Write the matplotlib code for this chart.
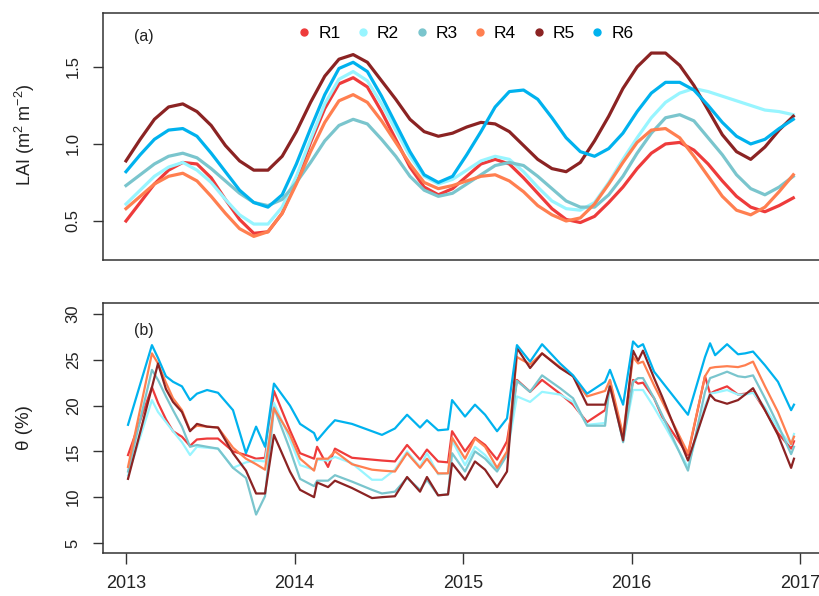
import numpy as np
import matplotlib
matplotlib.use("Agg")
import matplotlib.pyplot as plt
from matplotlib.lines import Line2D

plt.rcParams['font.family'] = ['Liberation Sans', 'DejaVu Sans']
plt.rcParams['mathtext.fontset'] = 'custom'
plt.rcParams['mathtext.rm'] = 'Liberation Sans'
plt.rcParams['mathtext.it'] = 'Liberation Sans:italic'
plt.rcParams['mathtext.default'] = 'regular'

names = ['R1', 'R2', 'R3', 'R4', 'R5', 'R6']
colors = ['#EE3B3B', '#98F5FF', '#7AC5CD', '#FF7F50', '#8B2323', '#00B2EE']

# LAI, roughly monthly readings of the smoothed curves
lai_t = np.linspace(2013.0, 2016.96, 48)
lai_r1 = [0.50, 0.62, 0.74, 0.83, 0.88, 0.87, 0.78, 0.64, 0.51, 0.42,
          0.43, 0.55, 0.76, 1.01, 1.23, 1.39, 1.43, 1.37, 1.21, 1.03,
          0.85, 0.72, 0.67, 0.71, 0.79, 0.87, 0.90, 0.87, 0.78, 0.68,
          0.58, 0.51, 0.49, 0.53, 0.62, 0.72, 0.84, 0.94, 1.00, 1.01,
          0.96, 0.87, 0.76, 0.66, 0.59, 0.56, 0.60, 0.65]
lai_r2 = [0.61, 0.70, 0.79, 0.85, 0.88, 0.83, 0.75, 0.64, 0.54, 0.48,
          0.48, 0.59, 0.79, 1.03, 1.26, 1.42, 1.47, 1.41, 1.26, 1.09,
          0.92, 0.79, 0.74, 0.77, 0.83, 0.89, 0.92, 0.90, 0.82, 0.72,
          0.63, 0.58, 0.57, 0.62, 0.75, 0.90, 1.04, 1.17, 1.27, 1.33,
          1.36, 1.34, 1.31, 1.28, 1.25, 1.22, 1.21, 1.19]
lai_r3 = [0.73, 0.80, 0.87, 0.92, 0.94, 0.91, 0.84, 0.76, 0.68, 0.62,
          0.60, 0.64, 0.75, 0.88, 1.02, 1.12, 1.16, 1.13, 1.03, 0.92,
          0.79, 0.70, 0.66, 0.68, 0.74, 0.80, 0.86, 0.88, 0.86, 0.79,
          0.71, 0.63, 0.59, 0.59, 0.67, 0.79, 0.94, 1.07, 1.17, 1.19,
          1.15, 1.04, 0.93, 0.80, 0.71, 0.67, 0.72, 0.79]
lai_r4 = [0.58, 0.66, 0.74, 0.79, 0.81, 0.76, 0.66, 0.55, 0.45, 0.40,
          0.43, 0.55, 0.74, 0.95, 1.14, 1.28, 1.32, 1.27, 1.15, 1.01,
          0.87, 0.75, 0.71, 0.73, 0.76, 0.79, 0.80, 0.76, 0.69, 0.60,
          0.54, 0.50, 0.52, 0.61, 0.74, 0.88, 1.01, 1.09, 1.10, 1.04,
          0.92, 0.79, 0.66, 0.57, 0.54, 0.59, 0.69, 0.80]
lai_r5 = [0.89, 1.03, 1.16, 1.24, 1.26, 1.21, 1.12, 0.99, 0.89, 0.83,
          0.83, 0.92, 1.08, 1.27, 1.44, 1.55, 1.58, 1.53, 1.41, 1.29,
          1.16, 1.08, 1.05, 1.07, 1.11, 1.14, 1.13, 1.08, 0.99, 0.90,
          0.84, 0.82, 0.88, 1.02, 1.18, 1.36, 1.50, 1.59, 1.59, 1.51,
          1.38, 1.22, 1.06, 0.95, 0.90, 0.98, 1.09, 1.18]
lai_r6 = [0.82, 0.93, 1.03, 1.09, 1.10, 1.05, 0.94, 0.82, 0.70, 0.62,
          0.59, 0.67, 0.87, 1.10, 1.32, 1.49, 1.53, 1.47, 1.31, 1.13,
          0.95, 0.80, 0.75, 0.79, 0.93, 1.08, 1.24, 1.34, 1.35, 1.29,
          1.17, 1.04, 0.95, 0.92, 0.97, 1.07, 1.21, 1.33, 1.40, 1.40,
          1.35, 1.25, 1.14, 1.05, 1.00, 1.03, 1.10, 1.16]

# soil water content (%), sampling dates as decimal years
theta_t = [2013.012, 2013.154, 2013.190, 2013.237, 2013.279, 2013.332, 2013.380, 2013.421, 2013.481, 2013.546,
           2013.635, 2013.712, 2013.772, 2013.825, 2013.878, 2013.973, 2014.033, 2014.116, 2014.134, 2014.199,
           2014.240, 2014.341, 2014.460, 2014.519, 2014.596, 2014.668, 2014.745, 2014.786, 2014.852, 2014.911,
           2014.935, 2015.012, 2015.071, 2015.131, 2015.202, 2015.261, 2015.320, 2015.398, 2015.469, 2015.576,
           2015.653, 2015.736, 2015.843, 2015.872, 2015.950, 2016.009, 2016.039, 2016.068, 2016.134, 2016.181,
           2016.335, 2016.436, 2016.466, 2016.496, 2016.567, 2016.632, 2016.674, 2016.721, 2016.792, 2016.869,
           2016.947, 2016.964]
theta_r1 = [14.6, 22.0, 20.3, 18.5, 17.2, 16.6, 15.6, 16.3, 16.4, 16.4,
            15.0, 14.6, 14.2, 14.3, 21.6, 17.3, 14.8, 14.2, 15.5, 13.3,
            15.3, 14.3, 14.1, 14.0, 13.9, 15.7, 14.1, 15.2, 13.9, 13.8,
            17.2, 15.0, 16.5, 15.7, 14.1, 16.1, 22.8, 21.5, 22.8, 21.3,
            20.1, 18.2, 19.5, 22.2, 16.4, 22.8, 22.4, 22.5, 20.8, 18.8,
            14.6, 23.2, 21.3, 21.6, 22.1, 21.2, 21.3, 21.5, 19.5, 17.0,
            15.3, 16.1]
theta_r2 = [12.4, 20.6, 19.3, 18.2, 17.2, 16.0, 14.6, 15.5, 15.4, 15.3,
            13.2, 13.8, 14.0, 13.9, 20.3, 16.3, 13.5, 13.0, 14.1, 14.0,
            14.4, 13.7, 11.9, 11.9, 13.0, 15.0, 13.3, 14.8, 12.5, 12.6,
            16.2, 13.5, 15.5, 14.6, 13.0, 14.6, 21.0, 20.4, 21.5, 21.2,
            20.4, 17.9, 18.1, 22.2, 16.1, 21.7, 21.7, 21.7, 19.8, 18.3,
            13.3, 20.0, 21.3, 21.4, 21.7, 21.2, 21.2, 21.4, 19.8, 17.5,
            15.7, 16.9]
theta_r3 = [12.8, 23.9, 22.8, 21.0, 19.5, 17.7, 15.5, 15.7, 15.5, 15.3,
            13.2, 12.1, 8.1, 10.1, 19.8, 15.2, 12.0, 11.2, 11.8, 11.8,
            12.4, 11.7, 10.8, 10.4, 10.6, 12.1, 10.8, 11.9, 10.2, 10.3,
            14.8, 12.8, 15.0, 14.2, 12.8, 14.6, 22.7, 21.5, 23.3, 21.9,
            20.8, 17.8, 17.8, 22.8, 16.0, 22.6, 23.0, 23.0, 20.8, 19.0,
            12.9, 21.5, 23.0, 23.2, 23.7, 23.2, 23.1, 23.3, 20.8, 17.9,
            14.7, 15.5]
theta_r4 = [13.3, 25.7, 24.6, 22.5, 20.8, 19.5, 17.3, 17.8, 17.7, 17.6,
            15.4, 14.2, 13.6, 13.0, 19.7, 16.8, 14.2, 12.9, 14.2, 14.2,
            15.0, 13.6, 13.0, 12.9, 12.8, 14.8, 13.2, 14.2, 12.6, 12.6,
            16.5, 14.2, 16.4, 15.5, 13.2, 15.0, 25.3, 24.5, 25.7, 24.2,
            23.2, 21.0, 21.6, 22.8, 16.8, 25.3, 24.6, 24.8, 22.2, 20.5,
            14.8, 23.2, 24.1, 24.2, 24.3, 24.2, 24.4, 24.8, 22.1, 19.3,
            15.8, 16.6]
theta_r5 = [12.0, 22.0, 24.6, 21.8, 20.4, 19.3, 17.2, 18.0, 17.7, 17.6,
            14.8, 12.9, 10.4, 10.4, 16.8, 12.8, 10.8, 10.0, 11.6, 11.1,
            11.8, 11.0, 9.9, 10.0, 10.1, 12.2, 10.6, 12.2, 10.2, 10.3,
            13.7, 11.9, 13.9, 13.0, 11.1, 12.8, 26.3, 24.1, 25.7, 24.1,
            23.2, 20.1, 20.1, 22.1, 16.2, 26.0, 24.9, 26.0, 23.0, 21.0,
            14.0, 19.6, 21.2, 20.6, 20.2, 20.6, 21.2, 21.9, 19.5, 16.8,
            13.2, 14.2]
theta_r6 = [17.9, 26.6, 25.2, 23.2, 22.6, 22.1, 20.6, 21.3, 21.7, 21.4,
            19.5, 14.8, 17.7, 15.5, 22.4, 20.0, 18.0, 17.0, 16.2, 17.6,
            18.4, 18.0, 17.2, 16.8, 17.5, 19.0, 17.6, 18.4, 17.3, 17.4,
            20.6, 18.8, 20.1, 19.0, 17.2, 18.6, 26.6, 24.8, 26.7, 24.6,
            23.3, 21.3, 22.6, 23.9, 20.1, 27.0, 26.4, 26.7, 23.7, 22.6,
            19.0, 25.3, 26.8, 25.5, 26.7, 25.6, 25.7, 25.9, 24.4, 22.6,
            19.5, 20.1]

lai_series = [lai_r1, lai_r2, lai_r3, lai_r4, lai_r5, lai_r6]
theta_series = [theta_r1, theta_r2, theta_r3, theta_r4, theta_r5, theta_r6]
year_ticks = [2013, 2014, 2015, 2016, 2017]

fig = plt.figure(figsize=(8.2, 5.96), dpi=100)
ax1 = fig.add_axes([0.1256, 0.5638, 0.8739, 0.4144])
ax2 = fig.add_axes([0.1256, 0.0721, 0.8739, 0.4195])

edge = '#333333'
for ax in (ax1, ax2):
    ax.set_xlim(2012.8635, 2017.116)
    for s in ax.spines.values():
        s.set_color(edge)
        s.set_linewidth(1.1)
    ax.tick_params(axis='y', direction='out', length=7, width=1, color=edge,
                   labelsize=12, labelcolor='#222222', pad=9, labelrotation=90)

# (a) LAI
for vals, c in zip(lai_series, colors):
    ax1.plot(lai_t, vals, color=c, lw=2.3, solid_joinstyle='round')
ax1.set_ylim(0.247, 1.85)
ax1.set_yticks([0.5, 1.0, 1.5])
ax1.set_yticklabels(['0.5', '1.0', '1.5'], va='center')
ax1.set_xticks([])
ax1.text(0.043, 0.903, '(a)', transform=ax1.transAxes, fontsize=11.5,
         ha='left', va='center', color='#222222')

handles = [Line2D([], [], ls='none', marker='o', ms=5, color=c) for c in colors]
ax1.legend(handles, names, ncol=6, loc='upper center', bbox_to_anchor=(0.507, 1.01),
           frameon=False, fontsize=12.5, handlelength=0.6, handletextpad=0.5,
           columnspacing=1.0)

# (b) theta
for vals, c in zip(theta_series, colors):
    ax2.plot(theta_t, vals, color=c, lw=1.6)
ax2.set_ylim(3.9, 31.2)
ax2.set_yticks([5, 10, 15, 20, 25, 30])
ax2.set_yticklabels(['5', '10', '15', '20', '25', '30'], va='center')
ax2.set_xticks(year_ticks)
ax2.set_xticklabels([str(y) for y in year_ticks])
ax2.tick_params(axis='x', direction='out', length=8, width=1, color=edge,
                labelsize=13, labelcolor='#222222', pad=8)
ax2.text(0.043, 0.892, '(b)', transform=ax2.transAxes, fontsize=11.5,
         ha='left', va='center', color='#222222')

fig.text(25 / 820, 1 - 135 / 596, 'LAI (m$^2$ m$^{-2}$)', rotation=90,
         ha='center', va='center', fontsize=13, color='#222222')
fig.text(25 / 820, 1 - 428 / 596, 'θ (%)', rotation=90,
         ha='center', va='center', fontsize=13.5, color='#222222')

fig.savefig('out.png', dpi=100)
